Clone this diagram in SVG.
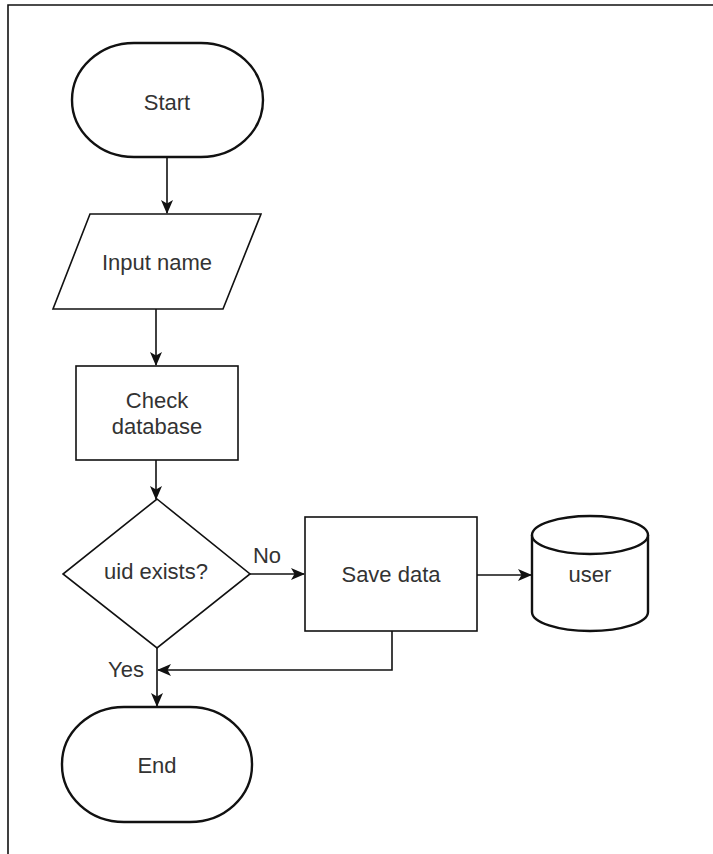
<svg xmlns="http://www.w3.org/2000/svg" width="713" height="854" viewBox="0 0 713 854">
  <style>
    .shape { fill: #ffffff; stroke: #111111; stroke-width: 1.6; }
    .bold { stroke-width: 2.4; }
    .label { font-family: "Liberation Sans", Arial, sans-serif; font-size: 22px; fill: #333333; text-anchor: middle; }
    .edge { fill: none; stroke: #111111; stroke-width: 1.6; }
  </style>
  <defs>
    <marker id="arrow" viewBox="0 0 14 12" refX="13" refY="6" markerWidth="14" markerHeight="12" markerUnits="userSpaceOnUse" orient="auto">
      <path d="M0,0 L14,6 L0,12 L3.5,6 Z" fill="#111111"/>
    </marker>
  </defs>

  <rect width="713" height="854" fill="#ffffff"/>
  <!-- page frame -->
  <path d="M8,854 V5 H713" fill="none" stroke="#111111" stroke-width="1.6"/>

  <g id="start">
    <rect class="shape bold" x="72" y="43" width="191" height="114" rx="62" ry="57"/>
    <text class="label" x="167" y="110">Start</text>
  </g>

  <g id="input-name">
    <polygon class="shape" points="90,214 261,214 223,309 53,309"/>
    <text class="label" x="157" y="270">Input name</text>
  </g>

  <g id="check-database">
    <rect class="shape" x="76" y="366" width="162" height="94"/>
    <text class="label" x="157" y="408">Check</text>
    <text class="label" x="157" y="434">database</text>
  </g>

  <g id="uid-exists">
    <polygon class="shape" points="157,499 250,574 157,648 63,574"/>
    <text class="label" x="156" y="579">uid exists?</text>
  </g>

  <g id="save-data">
    <rect class="shape" x="305" y="517" width="172" height="114"/>
    <text class="label" x="391" y="582">Save data</text>
  </g>

  <g id="user">
    <path class="shape bold" d="M532,535 A58,19 0 0 1 648,535 V612 A58,19 0 0 1 532,612 Z"/>
    <path class="shape bold" d="M532,535 A58,19 0 0 0 648,535" fill="none"/>
    <text class="label" x="590" y="582">user</text>
  </g>

  <g id="end">
    <rect class="shape bold" x="62" y="707" width="190" height="115" rx="62" ry="57"/>
    <text class="label" x="157" y="773">End</text>
  </g>

  <g id="connectors">
    <path class="edge" d="M167,157 V213" marker-end="url(#arrow)"/>
    <path class="edge" d="M156,309 V365" marker-end="url(#arrow)"/>
    <path class="edge" d="M156,460 V499" marker-end="url(#arrow)"/>
    <path class="edge" d="M250,574 H304" marker-end="url(#arrow)"/>
    <path class="edge" d="M477,575 H531" marker-end="url(#arrow)"/>
    <path class="edge" d="M392,631 V670 H158" marker-end="url(#arrow)"/>
    <path class="edge" d="M157,648 V706" marker-end="url(#arrow)"/>
    <text class="label" x="267" y="563">No</text>
    <text class="label" x="126" y="677">Yes</text>
  </g>
</svg>
